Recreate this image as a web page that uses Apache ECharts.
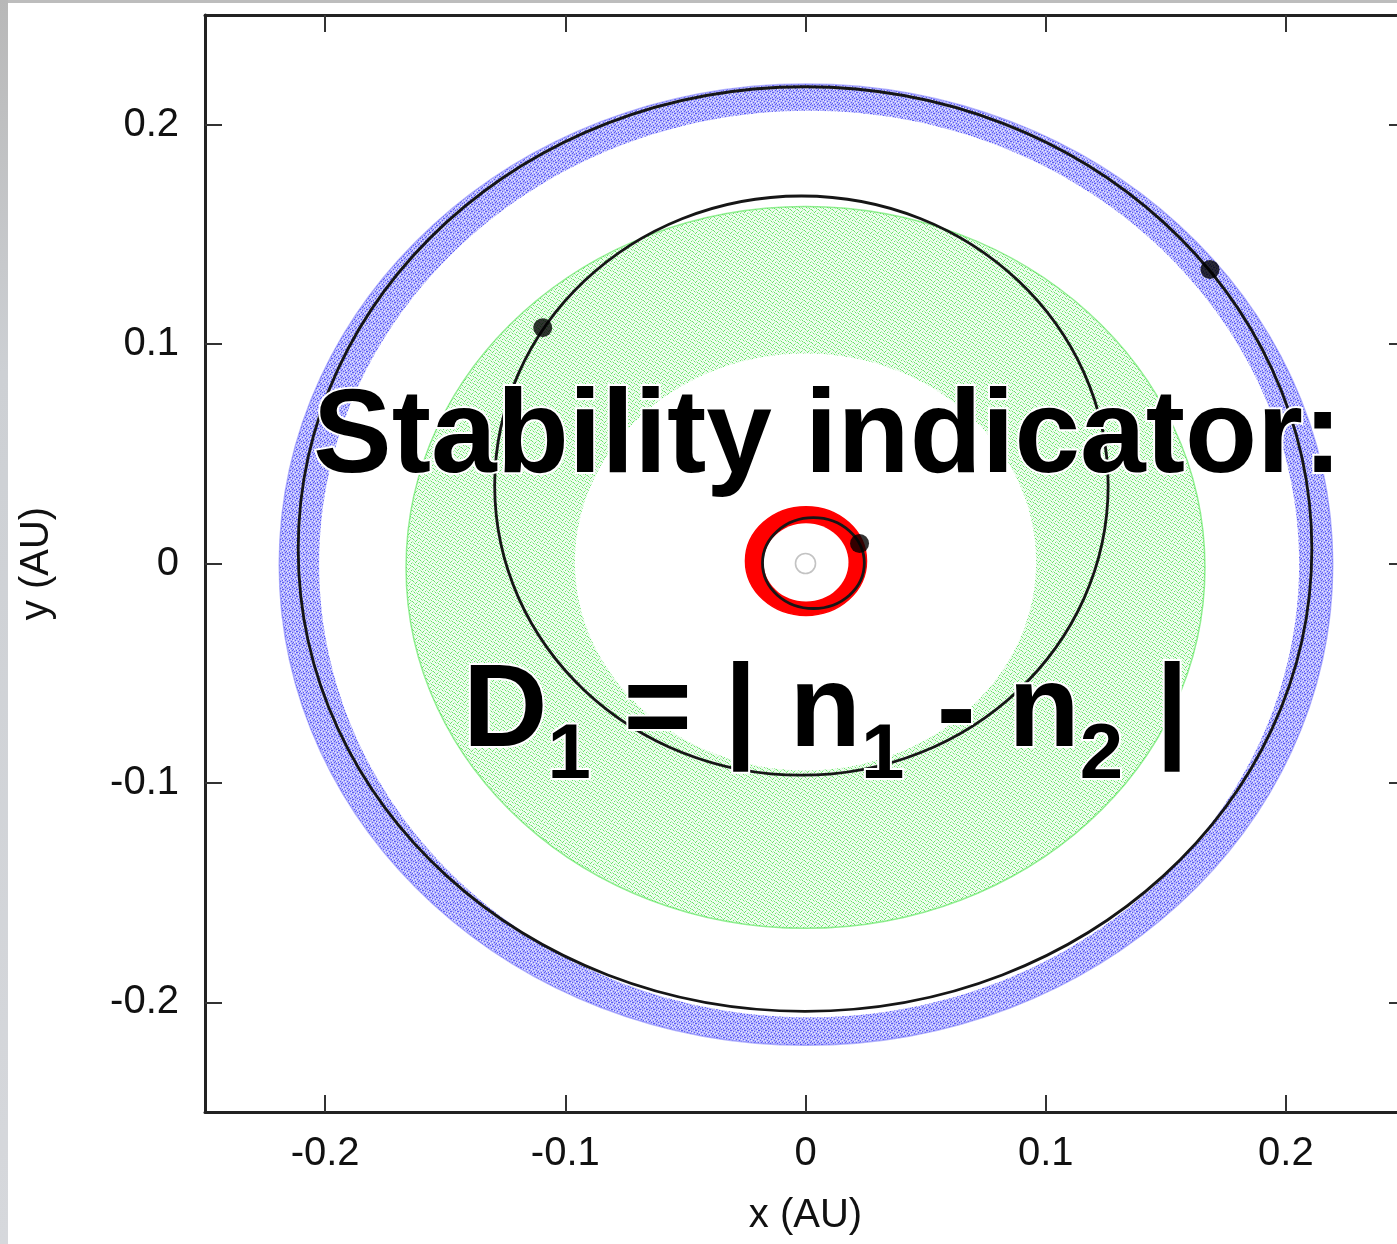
<!DOCTYPE html>
<html><head><meta charset="utf-8">
<script src="https://cdn.jsdelivr.net/npm/echarts@6/dist/echarts.min.js"></script>
<style>
html,body{margin:0;padding:0;width:1397px;height:1244px;overflow:hidden;background:#fff;}
#stripTop{position:absolute;left:0;top:0;width:1397px;height:3px;background:#bdbdbd;}
#stripLeft{position:absolute;left:0;top:0;width:8px;height:1244px;background:linear-gradient(#b8b8b8,#cdd0d4 30%,#d6d8dc);}
#chart{position:absolute;left:0;top:0;width:1420px;height:1244px;}
</style></head><body>
<div id="stripTop"></div><div id="stripLeft"></div>
<div id="chart"></div>
<script>
// ---------------- data (AU) ----------------
const xTicks = [-0.2, -0.1, 0, 0.1, 0.2];
const yTicks = [-0.2, -0.1, 0, 0.1, 0.2];
// rings swept by the particles: [outer cx, cy, rx, ry, inner cx, cy, rx, ry]
const blueRing  = [0.0002, -0.0005, 0.2193, 0.2191, 0.0015, -0.0002, 0.2040, 0.2066];
const greenRing = [0.0000, -0.0018, 0.1663, 0.1645, 0.0000,  0.0007, 0.0960, 0.0950];
const redRing   = [0.0002,  0.0011, 0.0252, 0.0248, 0.0002,  0.0005, 0.0177, 0.0178];
// osculating orbits (black ellipses): [cx, cy, rx, ry]
const orbitInner  = [0.0033, 0.0002, 0.0212, 0.0207];
const orbitMiddle = [-0.0017, 0.0355, 0.1277, 0.1320];
const orbitOuter  = [-0.0002, 0.0066, 0.2110, 0.2107];
// planets positions
const planets = [[0.0225, 0.0091], [-0.1094, 0.1075], [0.1684, 0.1340]];
const star = [[0, 0]];

const FONT = '"Liberation Sans", Arial, Helvetica, sans-serif';

function makePattern(base, layers, size) {
  const cv = document.createElement('canvas');
  cv.width = size; cv.height = size;
  const g = cv.getContext('2d');
  g.fillStyle = base; g.fillRect(0, 0, size, size);
  layers.forEach(([color, pts]) => { g.fillStyle = color; pts.forEach(([x, y]) => g.fillRect(x, y, 1, 1)); });
  return { type: 'pattern', image: cv, repeat: 'repeat' };
}
const bluePattern = makePattern('#b4b4fd', [
  ['#5a5af4', [[0,0],[3,1],[5,2],[1,3],[4,4],[6,5],[2,6],[5,6],[2,1]]],
  ['#ececff', [[1,1],[4,2],[2,4],[6,3],[3,6],[0,5]]]
], 7);
const greenPattern = makePattern('#eefcee', [
  ['#66e466', [[0,0],[3,1],[5,3],[1,4],[4,5],[6,6],[2,2]]],
  ['#b4f2b4', [[1,1],[4,0],[6,2],[2,5],[5,6],[0,3],[3,4]]]
], 7);

function ringSeries(name, ring, fill, edge) {
  return {
    type: 'custom', name, coordinateSystem: 'cartesian2d', silent: true, clip: false,
    data: [ring], encode: { x: 0, y: 1 },
    renderItem(params, api) {
      const co = api.coord([api.value(0), api.value(1)]);
      const so = api.size([api.value(2), api.value(3)]);
      const ci = api.coord([api.value(4), api.value(5)]);
      const si = api.size([api.value(6), api.value(7)]);
      return {
        type: 'group', children: [
          { type: 'ellipse', shape: { cx: co[0], cy: co[1], rx: so[0], ry: so[1] },
            style: { fill: fill, stroke: edge, lineWidth: 1.5 } },
          { type: 'ellipse', shape: { cx: ci[0], cy: ci[1], rx: si[0], ry: si[1] },
            style: { fill: '#ffffff' } }
        ]
      };
    }
  };
}

const orbitSeries = {
  type: 'custom', name: 'orbits', coordinateSystem: 'cartesian2d', silent: true, clip: false,
  data: [orbitInner, orbitMiddle, orbitOuter], encode: { x: 0, y: 1 },
  renderItem(params, api) {
    const c = api.coord([api.value(0), api.value(1)]);
    const s = api.size([api.value(2), api.value(3)]);
    return { type: 'ellipse', shape: { cx: c[0], cy: c[1], rx: s[0], ry: s[1] },
             style: { fill: 'none', stroke: '#161616', lineWidth: 2.8 } };
  }
};

// ---------- overlay text ----------
const mc = document.createElement('canvas').getContext('2d');
const mainFont = 'bold 117px ' + FONT;
const subFont = 'bold 78px ' + FONT;
const pieces = [['D', 0], ['1', 1], [' = | ', 0], ['n', 0], ['1', 1], [' - ', 0], ['n', 0], ['2', 1], [' |', 0]];
const graphics = [{
  type: 'text', x: 313, y: 439, z: 100,
  style: { text: 'Stability indicator:', font: 'bold 118px ' + FONT, fill: '#000',
           stroke: '#fff', lineWidth: 4, verticalAlign: 'middle', textVerticalAlign: 'middle' }
}];
let px = 463;
pieces.forEach(([t, sub]) => {
  const f = sub ? subFont : mainFont;
  mc.font = f;
  graphics.push({
    type: 'text', x: px, y: sub ? 756 : 714, z: 100,
    style: { text: t, font: f, fill: '#000', stroke: '#fff', lineWidth: 4,
             verticalAlign: 'middle', textVerticalAlign: 'middle' }
  });
  px += mc.measureText(t).width;
});

const lblFmt = v => String(Math.round(v * 10) / 10);
const lineStyle = { color: '#222', width: 3 };
const tickStyle = { color: '#333', width: 2 };

const option = {
  animation: false,
  grid: { left: 205, top: 15, width: 1201, height: 1097 },
  xAxis: [
    { type: 'value', min: -0.25, max: 0.25, position: 'bottom',
      name: 'x (AU)', nameLocation: 'middle', nameGap: 84,
      nameTextStyle: { fontSize: 40, color: '#111', fontFamily: FONT },
      axisLine: { show: true, onZero: false, lineStyle },
      axisTick: { show: true, inside: true, length: 17, customValues: xTicks, lineStyle: tickStyle },
      axisLabel: { customValues: xTicks, fontSize: 40, color: '#111', fontFamily: FONT, margin: 22, formatter: lblFmt },
      splitLine: { show: false } },
    { type: 'value', min: -0.25, max: 0.25, position: 'top',
      axisLine: { show: true, onZero: false, lineStyle },
      axisTick: { show: true, inside: true, length: 17, customValues: xTicks, lineStyle: tickStyle },
      axisLabel: { show: false }, splitLine: { show: false } }
  ],
  yAxis: [
    { type: 'value', min: -0.25, max: 0.25, position: 'left',
      name: 'y (AU)', nameLocation: 'middle', nameGap: 148,
      nameTextStyle: { fontSize: 40, color: '#111', fontFamily: FONT },
      axisLine: { show: true, onZero: false, lineStyle },
      axisTick: { show: true, inside: true, length: 17, customValues: yTicks, lineStyle: tickStyle },
      axisLabel: { customValues: yTicks, fontSize: 40, color: '#111', fontFamily: FONT, margin: 26, formatter: lblFmt },
      splitLine: { show: false } },
    { type: 'value', min: -0.25, max: 0.25, position: 'right',
      axisLine: { show: true, onZero: false, lineStyle },
      axisTick: { show: true, inside: true, length: 17, customValues: yTicks, lineStyle: tickStyle },
      axisLabel: { show: false }, splitLine: { show: false } }
  ],
  series: [
    ringSeries('outer planet particles', blueRing, bluePattern, 'rgba(110,110,250,0.5)'),
    ringSeries('middle planet particles', greenRing, greenPattern, 'rgba(80,228,80,0.6)'),
    ringSeries('inner planet particles', redRing, '#ff0000', '#ff0000'),
    orbitSeries,
    { type: 'scatter', name: 'star', data: star, symbol: 'circle', symbolSize: 20, silent: true,
      itemStyle: { color: 'rgba(255,255,255,0)', borderColor: '#b4b4b4', borderWidth: 1.6 } },
    { type: 'scatter', name: 'planets', data: planets, symbol: 'circle', symbolSize: 19, silent: true,
      itemStyle: { color: '#000' } }
  ],
  graphic: { elements: graphics }
};
const chart = echarts.init(document.getElementById('chart'), null, { renderer: 'canvas' });
chart.setOption(option);
</script>
</body></html>
